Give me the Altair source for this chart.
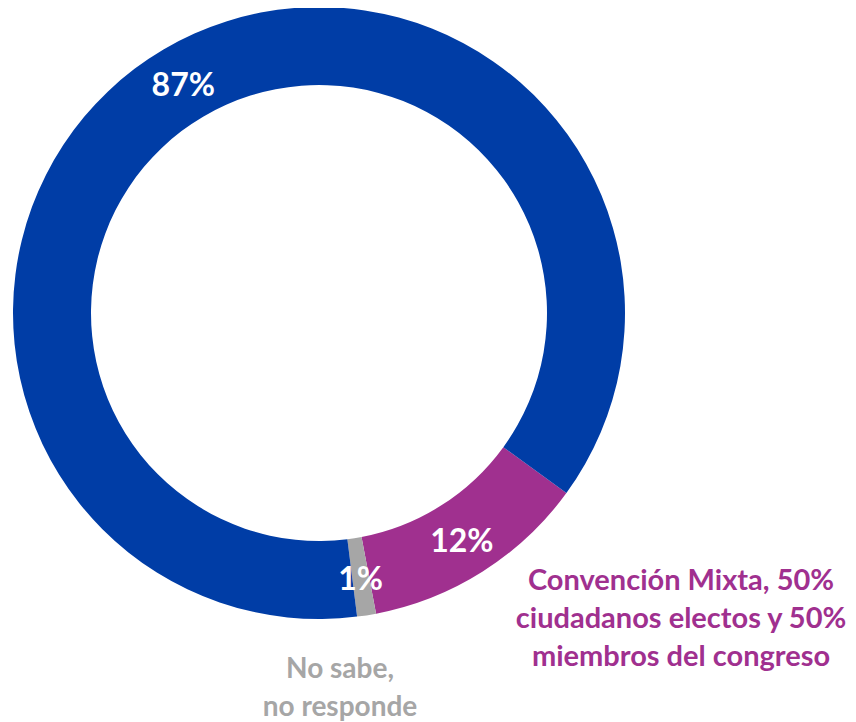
import altair as alt
import pandas as pd

categories = ["Convención Mixta", "No sabe, no responde", "Otra"]
values = [12, 1, 87]
labels = ["12%", "1%", "87%"]
order = [1, 2, 3]
colors = ["#A0308F", "#A6A6A6", "#003DA6"]

df = pd.DataFrame({"cat": categories, "value": values, "label": labels, "ord": order})

cx, cy = 311, 305
start = 2.2

theta = alt.Theta("value:Q", stack=True,
                  scale=alt.Scale(range=[start, start + 2 * 3.14159265]))
color = alt.Color("cat:N", scale=alt.Scale(domain=categories, range=colors), legend=None)

base = alt.Chart(df).encode(
    theta=theta,
    order=alt.Order("ord:Q"),
    x=alt.value(cx),
    y=alt.value(cy),
)

arcs = base.mark_arc(radius=306, radius2=228, stroke=None).encode(color=color)

txt = base.mark_text(radius=267, font="Lato", fontWeight="bold", fontSize=32,
                     color="white", dy=3).encode(text="label:N")

mixta_lines = ["Convención Mixta, 50%", "ciudadanos electos y 50%", "miembros del congreso"]
ns_lines = ["No sabe,", "no responde"]

mixta = alt.Chart(pd.DataFrame({"t": [mixta_lines]})).mark_text(
    font="Lato", fontWeight="bold", fontSize=29, color="#A0308F",
    align="center", baseline="middle", lineHeight=38
).encode(text="t", x=alt.value(673), y=alt.value(573))

nosabe = alt.Chart(pd.DataFrame({"t": [ns_lines]})).mark_text(
    font="Lato", fontWeight="bold", fontSize=28, color="#A6A6A6",
    align="center", baseline="middle", lineHeight=38
).encode(text="t", x=alt.value(332), y=alt.value(662))

chart = alt.layer(arcs, txt, mixta, nosabe).properties(
    width=840, height=714, padding=0, autosize="none"
).configure_view(stroke=None)

chart.save("out.html", embed_options={"renderer": "svg", "actions": False})
